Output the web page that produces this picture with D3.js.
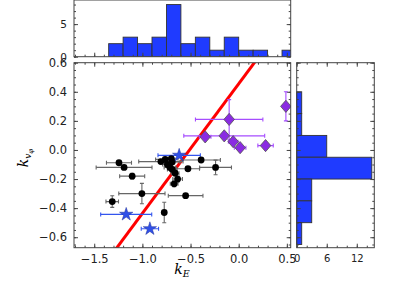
<!DOCTYPE html>
<html>
<head>
<meta charset="utf-8">
<script src="https://cdn.jsdelivr.net/npm/d3@7"></script>
<style>
  body { margin: 0; background: #fff; }
  text { font-family: "DejaVu Sans", sans-serif; }
</style>
</head>
<body>
<div id="chart"></div>
<script>
// data
var circX    = [-1.243, -1.19, -1.106, -1.313, -1.005, -0.773, -0.808, -0.763, -0.69, -0.714, -0.69, -0.634, -0.67, -0.527, -0.39, -0.24, -0.551, -0.74, -0.66, -0.70];
var circY    = [-0.088, -0.12, -0.18, -0.355, -0.30, -0.43, -0.08, -0.065, -0.083, -0.12, -0.134, -0.20, -0.233, -0.129, -0.069, -0.12, -0.314, -0.10, -0.16, -0.06];
var circXerr = [0.13, 0.29, 0.13, 0.065, 0.24, 0.02, 0.23, 0.10, 0.08, 0.06, 0.05, 0.05, 0.04, 0.12, 0.2, 0.165, 0.18, 0.05, 0.04, 0.07];
var circYerr = [0.01, 0.01, 0.02, 0.04, 0.07, 0.07, 0.01, 0.01, 0.01, 0.01, 0.01, 0.02, 0.02, 0.01, 0.01, 0.05, 0.01, 0.01, 0.01, 0.01];

var diaX    = [-0.348, -0.099, -0.15, -0.057, 0.015, 0.279, 0.49];
var diaY    = [0.09, 0.21, 0.097, 0.057, 0.016, 0.03, 0.30];
var diaXerr = [0.06, 0.35, 0.42, 0.05, 0.06, 0.08, 0.02];
var diaYerr = [0.01, 0.136, 0.01, 0.01, 0.01, 0.01, 0.1];

var starX    = [-0.618, -1.168, -0.922];
var starY    = [-0.037, -0.443, -0.542];
var starXerr = [0.22, 0.265, 0.09];
var starYerr = [0.01, 0.01, 0.01];

// fitted line y = slope * x + intercept
var lineSlope = 0.891, lineIntercept = 0.455;

// histograms
var topEdges  = [-1.35, -1.2, -1.05, -0.9, -0.75, -0.6, -0.45, -0.3, -0.15, 0.0, 0.15, 0.3, 0.45, 0.6];
var topCounts = [2, 3, 2, 3, 8, 2, 3, 1, 3, 1, 1, 0, 1];
var sideEdges  = [0.4, 0.25, 0.1, -0.05, -0.2, -0.35, -0.5, -0.65];
var sideCounts = [1, 1, 6, 15, 3, 3, 1];

var xTicks = [-1.5, -1.0, -0.5, 0.0, 0.5];
var yTicks = [-0.6, -0.4, -0.2, 0.0, 0.2, 0.4, 0.6];
var topHistTicks = [0, 5];
var sideHistTicks = [0, 6, 12];

var W = 399, H = 291;
var svg = d3.select("#chart").append("svg")
    .attr("width", W).attr("height", H);

var x = d3.scaleLinear().domain([-1.71, 0.54]).range([74, 290.7]);
var y = d3.scaleLinear().domain([-0.672, 0.6]).range([247.7, 62.7]);
var yTop = d3.scaleLinear().domain([0, 8.7]).range([56.7, 0]);
var xSide = d3.scaleLinear().domain([0, 15.5]).range([296.7, 374.3]);

var frameCol = "#444";
var barCol = "#1f3bff";

// clip paths
var defs = svg.append("defs");
defs.append("clipPath").attr("id", "clipMain").append("rect")
  .attr("x", 74).attr("y", 62.7).attr("width", 290.7 - 74).attr("height", 247.7 - 62.7);
defs.append("clipPath").attr("id", "clipTop").append("rect")
  .attr("x", 74).attr("y", 0).attr("width", 290.7 - 74).attr("height", 56.7);

function minorTicks(scale, step) {
  var d = scale.domain(), lo = Math.min(d[0], d[1]), hi = Math.max(d[0], d[1]);
  var out = [];
  for (var v = Math.ceil(lo / step) * step; v <= hi + 1e-9; v += step) out.push(+v.toFixed(6));
  return out;
}

// draws inward ticks on a box side; labels optional
function side(g, axisFn, scale, pos, ticks, minorStep, fmt, labels, fs) {
  var a = axisFn(scale).tickValues(minorTicks(scale, minorStep)).tickSize(-2).tickFormat("");
  g.append("g").attr("transform", pos).call(a)
    .call(function(s) { s.select(".domain").remove(); s.selectAll("line").attr("stroke", frameCol); });
  var b = axisFn(scale).tickValues(ticks).tickSize(-4).tickPadding(7)
    .tickFormat(labels ? fmt : "");
  g.append("g").attr("transform", pos).call(b)
    .call(function(s) {
      s.select(".domain").remove();
      s.selectAll("line").attr("stroke", frameCol);
      s.selectAll("text").attr("fill", "#222").style("font-size", fs + "px")
        .style("font-family", "DejaVu Sans, sans-serif");
    });
}

function fmtSigned(d) {
  return d3.format(".1f")(d).replace("-", "\u2212");
}

// ---------- main panel ----------
var mainG = svg.append("g");
side(mainG, d3.axisBottom, x, "translate(0,247.7)", xTicks, 0.1, fmtSigned, true, 11.5);
side(mainG, d3.axisTop, x, "translate(0,62.7)", xTicks, 0.1, fmtSigned, false, 11.5);
side(mainG, d3.axisLeft, y, "translate(74,0)", yTicks, 0.05, fmtSigned, true, 11.5);
side(mainG, d3.axisRight, y, "translate(290.7,0)", yTicks, 0.05, fmtSigned, false, 11.5);

var plot = mainG.append("g").attr("clip-path", "url(#clipMain)");

// red fit line
var xd = x.domain();
plot.append("line")
  .attr("x1", x(xd[0])).attr("y1", y(lineSlope * xd[0] + lineIntercept))
  .attr("x2", x(xd[1])).attr("y2", y(lineSlope * xd[1] + lineIntercept))
  .attr("stroke", "#ff0000").attr("stroke-width", 3);

function errorBars(xs, ys, xe, ye, col) {
  var g = plot.append("g").attr("stroke", col).attr("stroke-width", 1.1);
  xs.forEach(function(v, i) {
    var cy = y(ys[i]), x0 = x(v - xe[i]), x1 = x(v + xe[i]);
    var cx = x(v), y0 = y(ys[i] - ye[i]), y1 = y(ys[i] + ye[i]);
    g.append("line").attr("x1", x0).attr("x2", x1).attr("y1", cy).attr("y2", cy);
    g.append("line").attr("x1", x0).attr("x2", x0).attr("y1", cy - 2).attr("y2", cy + 2);
    g.append("line").attr("x1", x1).attr("x2", x1).attr("y1", cy - 2).attr("y2", cy + 2);
    g.append("line").attr("x1", cx).attr("x2", cx).attr("y1", y0).attr("y2", y1);
    g.append("line").attr("x1", cx - 2).attr("x2", cx + 2).attr("y1", y0).attr("y2", y0);
    g.append("line").attr("x1", cx - 2).attr("x2", cx + 2).attr("y1", y1).attr("y2", y1);
  });
}

errorBars(circX, circY, circXerr, circYerr, "#666");
errorBars(diaX, diaY, diaXerr, diaYerr, "#a64dff");
errorBars(starX, starY, starXerr, starYerr, "#3355ee");

plot.selectAll(".circ").data(circX).enter().append("circle")
  .attr("cx", function(d) { return x(d); })
  .attr("cy", function(d, i) { return y(circY[i]); })
  .attr("r", 3.4).attr("fill", "#000");

var diamond = d3.symbol().type(d3.symbolSquare).size(56);
plot.selectAll(".dia").data(diaX).enter().append("path")
  .attr("d", diamond)
  .attr("transform", function(d, i) { return "translate(" + x(d) + "," + y(diaY[i]) + ") scale(1,1.15) rotate(45)"; })
  .attr("fill", "#8a2be2").attr("stroke", "#555").attr("stroke-width", 0.7);

var star = d3.symbol().type(d3.symbolStar).size(55);
plot.selectAll(".star").data(starX).enter().append("path")
  .attr("d", star)
  .attr("transform", function(d, i) { return "translate(" + x(d) + "," + y(starY[i]) + ")"; })
  .attr("fill", "#3050e8").attr("stroke", "#223399").attr("stroke-width", 0.5);

mainG.append("rect").attr("x", 74).attr("y", 62.7)
  .attr("width", 290.7 - 74).attr("height", 247.7 - 62.7)
  .attr("fill", "none").attr("stroke", frameCol).attr("stroke-width", 1);

// axis labels
mainG.append("text").attr("x", 182).attr("y", 274)
  .attr("text-anchor", "middle")
  .style("font-family", "DejaVu Serif, serif").style("font-style", "italic").style("font-size", "14px")
  .text("k").append("tspan").attr("dy", 3).style("font-size", "9.5px").text("E");

var yl = mainG.append("text")
  .attr("transform", "translate(28,158) rotate(-90)")
  .attr("text-anchor", "middle")
  .style("font-family", "DejaVu Serif, serif").style("font-style", "italic").style("font-size", "14px");
yl.append("tspan").text("k");
yl.append("tspan").attr("dy", 3).style("font-size", "9px").text("v");
yl.append("tspan").attr("dy", 2).style("font-size", "7px").text("\u03c6");

// ---------- top histogram ----------
var topG = svg.append("g");
var topBars = topG.append("g").attr("clip-path", "url(#clipTop)");
topBars.selectAll("rect").data(topCounts).enter().append("rect")
  .attr("x", function(d, i) { return x(topEdges[i]); })
  .attr("y", function(d) { return yTop(d); })
  .attr("width", function(d, i) { return x(topEdges[i + 1]) - x(topEdges[i]); })
  .attr("height", function(d) { return yTop(0) - yTop(d); })
  .attr("fill", barCol)
  .attr("stroke", function(d) { return d > 0 ? "#333" : "none"; })
  .attr("stroke-width", 0.9);
side(topG, d3.axisLeft, yTop, "translate(74,0)", topHistTicks, 1, d3.format("d"), true, 10.5);
side(topG, d3.axisRight, yTop, "translate(290.7,0)", topHistTicks, 1, d3.format("d"), false, 10.5);
side(topG, d3.axisBottom, x, "translate(0,56.7)", xTicks, 0.1, fmtSigned, false, 10);
topG.append("rect").attr("x", 74).attr("y", 0)
  .attr("width", 290.7 - 74).attr("height", 56.7)
  .attr("fill", "none").attr("stroke", frameCol).attr("stroke-width", 1);

// ---------- side histogram ----------
var rs = svg.append("g");
rs.selectAll("rect").data(sideCounts).enter().append("rect")
  .attr("x", xSide(0))
  .attr("y", function(d, i) { return y(sideEdges[i]); })
  .attr("width", function(d) { return xSide(d) - xSide(0); })
  .attr("height", function(d, i) { return y(sideEdges[i + 1]) - y(sideEdges[i]); })
  .attr("fill", barCol).attr("stroke", "#333").attr("stroke-width", 0.9);
side(rs, d3.axisBottom, xSide, "translate(0,247.7)", sideHistTicks, 2, d3.format("d"), true, 10);
side(rs, d3.axisTop, xSide, "translate(0,62.7)", sideHistTicks, 2, d3.format("d"), false, 10);
side(rs, d3.axisLeft, y, "translate(296.7,0)", yTicks, 0.05, fmtSigned, false, 10);
side(rs, d3.axisRight, y, "translate(374.3,0)", yTicks, 0.05, fmtSigned, false, 10);
rs.append("rect").attr("x", 296.7).attr("y", 62.7)
  .attr("width", 374.3 - 296.7).attr("height", 247.7 - 62.7)
  .attr("fill", "none").attr("stroke", frameCol).attr("stroke-width", 1);
</script>
</body>
</html>
